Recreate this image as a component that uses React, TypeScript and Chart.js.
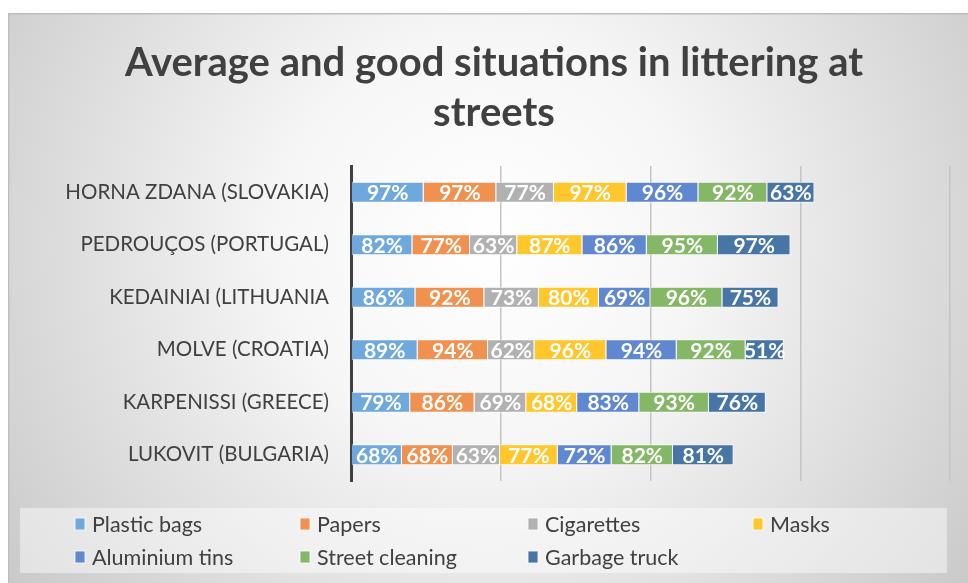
import React, { useEffect, useRef } from 'react';
import { Chart, registerables } from 'chart.js';

Chart.register(...registerables);

const titleLines = ['Average and good situations in littering at', 'streets'];
const categories = [
  'HORNA ZDANA (SLOVAKIA)',
  'PEDROUÇOS (PORTUGAL)',
  'KEDAINIAI (LITHUANIA',
  'MOLVE (CROATIA)',
  'KARPENISSI (GREECE)',
  'LUKOVIT (BULGARIA)',
];
const seriesNames = ['Plastic bags', 'Papers', 'Cigarettes', 'Masks', 'Aluminium tins', 'Street cleaning', 'Garbage truck'];
const plasticBags = [97, 82, 86, 89, 79, 68];
const papers = [97, 77, 92, 94, 86, 68];
const cigarettes = [77, 63, 73, 62, 69, 63];
const masks = [97, 87, 80, 96, 68, 77];
const aluminiumTins = [96, 86, 69, 94, 83, 72];
const streetCleaning = [92, 95, 96, 92, 93, 82];
const garbageTruck = [63, 97, 75, 51, 76, 81];
const seriesColors = ['#6FA8DC', '#F0914F', '#B1B1B1', '#FFC72C', '#6088D0', '#84B866', '#4775A5'];
const xMax = 800;
const xStep = 200;

const FONT = 'Lato, "Open Sans", sans-serif';
const TEXT = '#404040';

const bgPlugin = {
  id: 'bg',
  beforeDraw(chart: any) {
    const { ctx, width, height } = chart;
    ctx.save();
    const g = ctx.createRadialGradient(width * 0.5, height * 0.4, 0, width * 0.5, height * 0.4, width * 0.62);
    g.addColorStop(0, '#ffffff');
    g.addColorStop(0.35, '#f6f6f6');
    g.addColorStop(1, '#c9c9c9');
    ctx.fillStyle = g;
    ctx.fillRect(0, 0, width, height);
    ctx.strokeStyle = '#bdbdbd';
    ctx.lineWidth = 1.5;
    ctx.beginPath();
    ctx.moveTo(0.5, height);
    ctx.lineTo(0.5, 0.75);
    ctx.lineTo(width, 0.75);
    ctx.stroke();
    ctx.restore();
  },
};

const labelPlugin = {
  id: 'segLabels',
  afterDatasetsDraw(chart: any) {
    const { ctx } = chart;
    ctx.save();
    ctx.font = `bold 21px ${FONT}`;
    ctx.fillStyle = '#ffffff';
    ctx.textAlign = 'center';
    ctx.textBaseline = 'middle';
    chart.data.datasets.forEach((ds: any, i: number) => {
      const meta = chart.getDatasetMeta(i);
      meta.data.forEach((el: any, j: number) => {
        const p = el.getProps(['x', 'y', 'base'], true);
        ctx.fillText(`${ds.data[j]}%`, (p.x + p.base) / 2, p.y + 1);
      });
    });
    ctx.restore();
  },
};

const legendPlugin = {
  id: 'gridLegend',
  afterDraw(chart: any) {
    const { ctx } = chart;
    ctx.save();
    ctx.fillStyle = 'rgba(255,255,255,0.45)';
    ctx.fillRect(12, 495, 927, 65);
    const colX = [67, 292, 520, 745];
    const rowY = [511, 544];
    ctx.font = `21.5px ${FONT}`;
    ctx.textBaseline = 'middle';
    ctx.textAlign = 'left';
    chart.data.datasets.forEach((ds: any, i: number) => {
      const x = colX[i % 4];
      const y = rowY[Math.floor(i / 4)];
      ctx.fillStyle = ds.backgroundColor;
      ctx.fillRect(x, y - 6, 10, 12);
      ctx.strokeStyle = 'rgba(255,255,255,0.8)';
      ctx.lineWidth = 1;
      ctx.strokeRect(x, y - 6, 10, 12);
      ctx.fillStyle = TEXT;
      ctx.fillText(ds.label, x + 17, y + 1);
    });
    ctx.restore();
  },
};

export default function App() {
  const ref = useRef<HTMLCanvasElement>(null);
  useEffect(() => {
    if (!ref.current) return;
    const values = [plasticBags, papers, cigarettes, masks, aluminiumTins, streetCleaning, garbageTruck];
    const chart = new Chart(ref.current, {
      type: 'bar',
      data: {
        labels: categories,
        datasets: values.map((v, i) => ({
          label: seriesNames[i],
          data: v,
          backgroundColor: seriesColors[i],
          borderColor: 'rgba(255,255,255,0.7)',
          borderWidth: 1,
          barPercentage: 0.4,
          categoryPercentage: 1,
        })),
      },
      options: {
        indexAxis: 'y',
        animation: false,
        responsive: true,
        maintainAspectRatio: false,
        layout: { padding: { left: 30, right: 18, top: 0, bottom: 102 } },
        plugins: {
          legend: { display: false },
          tooltip: { enabled: false },
          title: {
            display: true,
            text: titleLines,
            color: TEXT,
            font: { family: FONT, size: 40, weight: 'bold', lineHeight: 1.25 },
            padding: { top: 25, bottom: 28 },
          },
        },
        scales: {
          x: {
            stacked: true,
            min: 0,
            max: xMax,
            ticks: { display: false, stepSize: xStep },
            border: { display: false },
            grid: { color: '#c4c4c4', lineWidth: 1.5, drawTicks: false },
            afterFit(scale: any) {
              scale.height = 0;
            },
          },
          y: {
            stacked: true,
            grid: { display: false, drawTicks: false },
            border: { display: true, color: '#404040', width: 3 },
            ticks: { color: TEXT, font: { family: FONT, size: 20.5 }, padding: 22 },
            afterFit(scale: any) {
              scale.width = 313;
            },
          },
        },
      },
      plugins: [bgPlugin, labelPlugin, legendPlugin],
    } as any);
    return () => chart.destroy();
  }, []);
  return (
    <div style={{ position: 'fixed', left: 8, top: 13, width: 960, height: 570 }}>
      <canvas ref={ref} />
    </div>
  );
}
